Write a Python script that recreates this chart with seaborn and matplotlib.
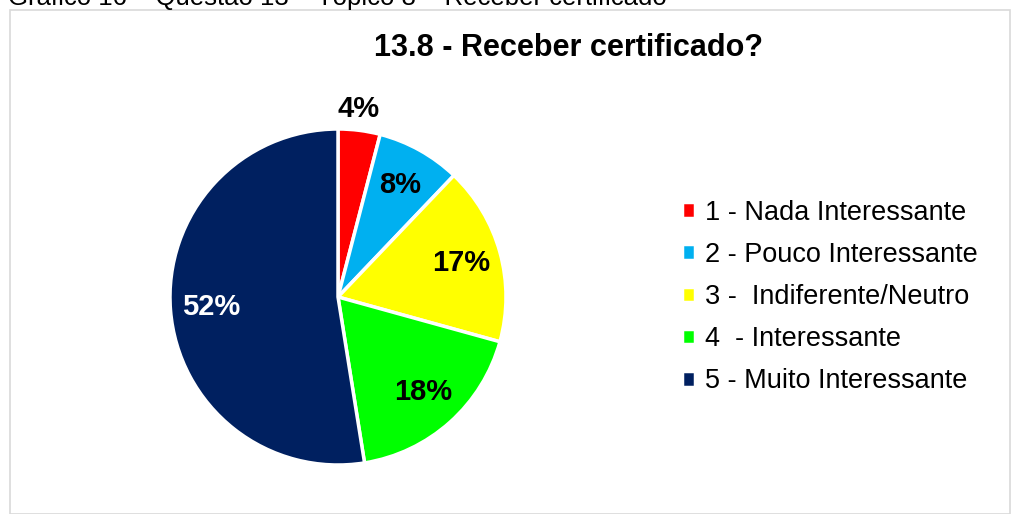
import matplotlib
matplotlib.use('Agg')
import matplotlib.pyplot as plt
from matplotlib.patches import Rectangle
import seaborn as sns

# Dados do gráfico
categorias = ['1 - Nada Interessante', '2 - Pouco Interessante', '3 -  Indiferente/Neutro',
              '4  - Interessante', '5 - Muito Interessante']
valores = [4, 8, 17, 18, 52]
cores = ['#ff0000', '#00b0f0', '#ffff00', '#00ff00', '#002060']
cores_rotulos = ['black', 'black', 'black', 'black', 'white']

sns.set_theme(style='white')
plt.rcParams['font.family'] = ['Liberation Sans', 'DejaVu Sans']
plt.rcParams['text.color'] = 'black'

W, H = 1011, 514
fig = plt.figure(figsize=(W / 100, H / 100), dpi=100)

# Moldura do gráfico
fig.patches.append(Rectangle((10 / W, 0), 1000 / W, 504 / H, transform=fig.transFigure,
                             fill=False, edgecolor='#d9d9d9', linewidth=1.2))

# Legenda superior cortada
fig.text(8 / W, 1 - 5 / H, 'Gráfico 16 – Questão 13 – Tópico 8 – Receber certificado',
         fontsize=18.5, va='baseline', ha='left', color='black')

# Eixo da pizza
cx, cy, r = 338, 297, 168
ax = fig.add_axes([(cx - r) / W, (H - cy - r) / H, 2 * r / W, 2 * r / H])

total = sum(valores)
cunhas, textos, autotextos = ax.pie(
    valores, colors=cores, startangle=90, counterclock=False,
    autopct=lambda p: f'{p * total / 100:.0f}%', pctdistance=0.76, radius=1,
    wedgeprops=dict(edgecolor='white', linewidth=2.5),
    textprops=dict(fontsize=21, fontweight='bold'))
ax.set_xlim(-1, 1)
ax.set_ylim(-1, 1)
ax.set_aspect('equal')
ax.axis('off')

for t, c in zip(autotextos, cores_rotulos):
    t.set_color(c)
# rótulo de 4% fora da fatia
autotextos[0].set_position((0.12, 1.12))

fig.text(568 / W, 1 - 48 / H, '13.8 - Receber certificado?', fontsize=22,
         fontweight='bold', ha='center', va='center', color='black')

fig.legend(cunhas, categorias, loc='center left', bbox_to_anchor=(668 / W, 1 - 297 / H),
           frameon=False, fontsize=19.5, handlelength=0.5, handleheight=0.5,
           handletextpad=0.35, labelspacing=0.6, borderpad=0, labelcolor='black')

fig.savefig('out.png', dpi=100)
